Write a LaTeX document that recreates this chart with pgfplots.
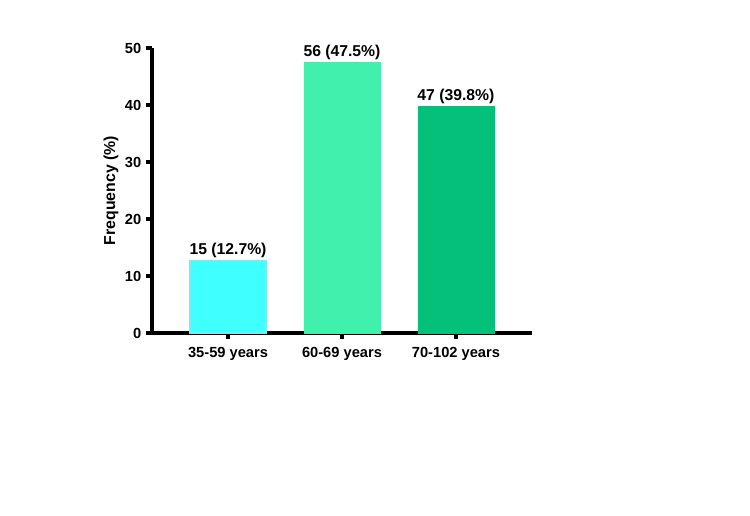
\documentclass[border=0pt]{standalone}
\usepackage{pgfplots}
\pgfplotsset{compat=1.18}
\usepackage{fontspec}
\setmainfont{Liberation Sans}
\definecolor{c1}{HTML}{40FFFF}
\definecolor{c1e}{HTML}{70F0F0}
\definecolor{c2}{HTML}{42F0AE}
\definecolor{c3}{HTML}{05C07A}
\begin{document}
\begin{tikzpicture}[x=0.75pt,y=0.75pt]
\path (-152,-183) rectangle (598,333);
\begin{axis}[
  at={(0,0)}, anchor=south west,
  scale only axis,
  width=285pt, height=213.75pt,
  xmin=-0.667, xmax=2.667, ymin=0, ymax=50,
  axis x line*=bottom, axis y line*=left,
  axis line style={line width=2.4pt,-},
  tick style={line width=2.4pt,black},
  major tick length=4.5pt,
  tick align=outside,
  xtick={0,1,2},
  xticklabels={35-59 years,60-69 years,70-102 years},
  ytick={0,10,20,30,40,50},
  minor tick num=0,
  /pgf/number format/assume math mode=true,
  tick label style={font=\bfseries\fontsize{11}{13}\selectfont},
  xticklabel style={yshift=-2.5pt},
  ylabel={\bfseries Frequency (\%)},
  ylabel style={font=\fontsize{11.9}{14}\selectfont, yshift=-2pt},
  ybar, bar width=57pt, bar shift=0pt,
  nodes near coords,
  point meta=explicit symbolic,
  every node near coord/.append style={font=\bfseries\fontsize{11.8}{14}\selectfont, black, inner sep=1.5pt},
  clip=false,
]
\addplot[fill=c1, draw=c1e, line width=0.8pt] coordinates {(0,12.7) [15 (12.7\%)]};
\addplot[fill=c2, draw=c2] coordinates {(1,47.5) [56 (47.5\%)]};
\addplot[fill=c3, draw=c3] coordinates {(2,39.8) [47 (39.8\%)]};
\end{axis}
\end{tikzpicture}
\end{document}
